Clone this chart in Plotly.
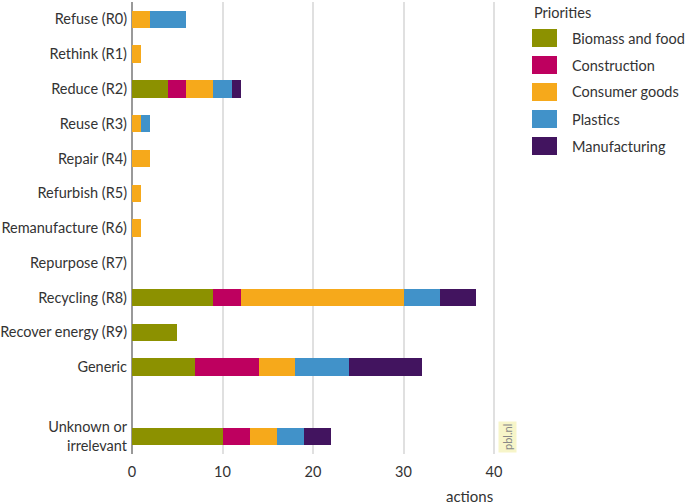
import plotly.graph_objects as go

# categories (blank row separates "Generic" from "Unknown")
categories = ["Refuse (R0)", "Rethink (R1)", "Reduce (R2)", "Reuse (R3)", "Repair (R4)",
              "Refurbish (R5)", "Remanufacture (R6)", "Repurpose (R7)", "Recycling (R8)",
              "Recover energy (R9)", "Generic", " ", "Unknown or<br>irrelevant"]

biomass = [0, 0, 4, 0, 0, 0, 0, 0, 9, 5, 7, 0, 10]
construction = [0, 0, 2, 0, 0, 0, 0, 0, 3, 0, 7, 0, 3]
consumer_goods = [2, 1, 3, 1, 2, 1, 1, 0, 18, 0, 4, 0, 3]
plastics = [4, 0, 2, 1, 0, 0, 0, 0, 4, 0, 6, 0, 3]
manufacturing = [0, 0, 1, 0, 0, 0, 0, 0, 4, 0, 8, 0, 3]

series = [
    ("Biomass and food", biomass, "#8c9100"),
    ("Construction", construction, "#be005f"),
    ("Consumer goods", consumer_goods, "#f6a91b"),
    ("Plastics", plastics, "#4192c9"),
    ("Manufacturing", manufacturing, "#42145f"),
]

FONT = "Lato"
TXT = "#333333"

# plot area in pixels
L, R, T, B = 132, 500, 2, 454
W, H = 685, 504


def px(x):
    return (x - L) / (R - L)


def py(y):
    return (B - y) / (B - T)


fig = go.Figure()
for name, vals, col in series:
    fig.add_trace(go.Bar(y=categories, x=vals, name=name, orientation="h",
                         marker=dict(color=col, line=dict(width=0)), showlegend=False))

# hand-drawn legend to match swatch size / spacing
shapes = []
annotations = [dict(text="Priorities", xref="paper", yref="paper", x=px(532), y=py(12),
                    xanchor="left", yanchor="middle", showarrow=False,
                    font=dict(family=FONT, size=14.5, color=TXT))]
for i, (name, vals, col) in enumerate(series):
    cy = 38 + 27 * i
    shapes.append(dict(type="rect", xref="paper", yref="paper",
                       x0=px(532), x1=px(557), y0=py(cy - 9), y1=py(cy + 9),
                       fillcolor=col, line=dict(width=0)))
    annotations.append(dict(text=name, xref="paper", yref="paper", x=px(570), y=py(cy),
                            xanchor="left", yanchor="middle", showarrow=False,
                            font=dict(family=FONT, size=14.5, color=TXT)))

annotations.append(dict(text="actions", xref="paper", yref="paper", x=px(495), y=py(496),
                        xanchor="right", yanchor="middle", showarrow=False,
                        font=dict(family=FONT, size=15, color=TXT)))
annotations.append(dict(text="pbl.nl", xref="paper", yref="paper", x=px(507), y=py(437),
                        xanchor="center", yanchor="middle", showarrow=False, textangle=-90,
                        bgcolor="#f7f5c9", borderpad=2,
                        font=dict(family=FONT, size=11, color="#888888")))

fig.update_layout(
    width=W, height=H,
    barmode="stack", bargap=0.5,
    margin=dict(l=L, r=W - R, t=T, b=H - B),
    plot_bgcolor="white", paper_bgcolor="white",
    font=dict(family=FONT, size=14.5, color=TXT),
    shapes=shapes, annotations=annotations,
    showlegend=False,
)
fig.update_xaxes(range=[0, 40.66], tickvals=[0, 10, 20, 30, 40], showgrid=True,
                 gridcolor="#e0e0e0", gridwidth=1.5, zeroline=True, zerolinecolor="#999999",
                 zerolinewidth=1.5, showline=False, ticks="", tickfont=dict(size=14.5),
                 ticklabelstandoff=7)
fig.update_yaxes(categoryorder="array", categoryarray=categories, autorange="reversed",
                 showgrid=False, ticks="", showline=False, tickfont=dict(size=14.5),
                 ticklabelstandoff=4, automargin=False)

# body has an 8px default margin; remove it so the figure sits at the window corner
fig.write_html("out.html", config={"displayModeBar": False},
               post_script="document.body.style.margin='0';")
